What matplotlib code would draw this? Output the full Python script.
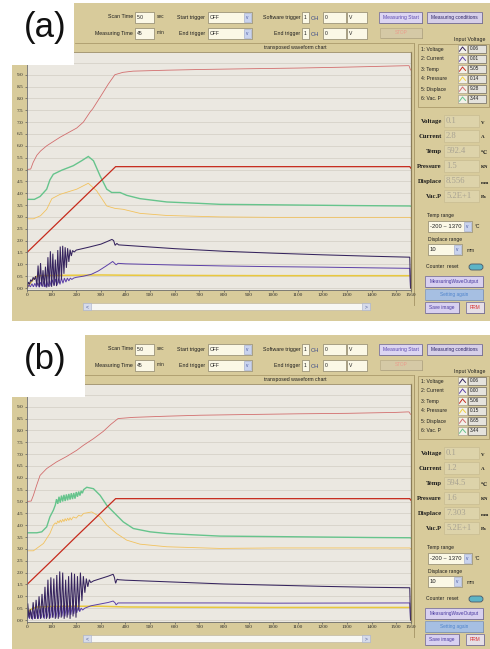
import matplotlib
matplotlib.use("Agg")
import matplotlib.pyplot as plt
from matplotlib.patches import Rectangle, FancyBboxPatch

plt.rcParams["font.family"] = ["Liberation Sans", "DejaVu Sans"]

# ---------------- data ----------------
x_ticks = [0, 100, 200, 300, 400, 500, 600, 700, 800, 900, 1000, 1100, 1200,
           1300, 1400, 1500, 1560]
y_ticks = [i * 0.5 for i in range(20)]

channel_names = ["1: Voltage", "2: Current", "3: Temp", "4: Pressure",
                 "5: Displace", "6: Vac. P"]
a_input_voltage = ["0.06", "0.01", "5.05", "0.14", "9.28", "3.44"]
b_input_voltage = ["0.06", "0.00", "5.06", "0.15", "8.65", "3.44"]

readout_labels = ["Voltage", "Current", "Temp", "Pressure", "Displace", "Vac.P"]
readout_units = ["V", "A", "\u2103", "KN", "mm", "Pa"]
a_readouts = ["0.1", "2.8", "592.4", "1.5", "8.556", "5.2E+1"]
b_readouts = ["0.1", "1.2", "594.5", "1.6", "7.303", "5.2E+1"]

# (a) traces, (time s, signal V)
a_displace = [(0, 5.0), (15, 5.02), (25, 5.3), (40, 5.6), (55, 5.78), (80, 6.0),
              (134, 6.36), (202, 6.75), (229, 7.0), (256, 7.42), (267, 7.56),
              (300, 8.1), (330, 8.6), (357, 9.0), (390, 9.1), (431, 9.15),
              (568, 9.19), (703, 9.22), (893, 9.25), (1100, 9.28), (1300, 9.32),
              (1543, 9.38), (1552, 9.38), (1558, 9.2)]
a_temp = [(0, 1.5), (360, 5.12), (1555, 5.12), (1560, 5.05)]
a_vacp = [(0, 3.74), (30, 3.74), (53, 3.86), (80, 4.17), (93, 4.56), (107, 4.8),
          (141, 4.97), (188, 5.16), (222, 5.37), (249, 5.55), (270, 5.37),
          (297, 4.73), (324, 4.17), (344, 4.03), (378, 4.03), (405, 3.91),
          (459, 3.77), (568, 3.63), (703, 3.57), (784, 3.53), (900, 3.52),
          (1100, 3.5), (1300, 3.48), (1555, 3.46), (1560, 3.45)]
a_pressure = [(0, 2.92), (26, 2.92), (55, 3.05), (80, 3.32), (101, 3.77),
              (134, 3.95), (202, 4.17), (249, 4.42), (283, 4.1), (324, 3.46),
              (357, 3.36), (391, 3.32), (459, 3.15), (568, 3.06), (784, 3.0),
              (1000, 2.98), (1555, 2.98), (1560, 2.95)]
a_level = [(0, 0.0), (10, 0.15), (20, 0.3), (30, 0.4), (40, 0.5), (50, 0.52),
           (100, 0.53), (200, 0.54), (300, 0.55), (400, 0.54), (600, 0.53),
           (1000, 0.52), (1555, 0.52)]
a_voltage = [(0, 0.0), (5, 0.25), (10, 0.15), (15, 0.35), (20, 0.28), (25, 0.45),
             (30, 0.35), (35, 0.5), (40, 0.1), (45, 0.95), (50, 0.05), (55, 1.05),
             (60, 0.1), (65, 0.75), (70, 0.05), (75, 0.9), (80, 0.02), (85, 1.3),
             (90, 0.05), (95, 1.55), (100, 0.05), (105, 1.45), (110, 0.1),
             (115, 1.2), (120, 0.08), (125, 1.6), (130, 0.2), (135, 1.75),
             (140, 0.35), (145, 1.78), (150, 0.6), (155, 1.72), (160, 0.85),
             (165, 1.68), (170, 1.1), (175, 1.62), (180, 1.35), (185, 1.58),
             (192, 1.52), (200, 1.6), (250, 1.72), (300, 1.85), (330, 1.98),
             (345, 2.05), (352, 2.0), (358, 1.8), (365, 1.88), (372, 1.82),
             (400, 1.8), (600, 1.66), (800, 1.55), (1000, 1.47), (1200, 1.4),
             (1400, 1.34), (1555, 1.3), (1558, 0.0)]
a_current = [(0, 0.0), (8, 0.12), (14, 0.05), (20, 0.18), (26, 0.05), (32, 0.2),
             (38, 0.04), (44, 0.22), (50, 0.03), (56, 0.25), (62, 0.05), (68, 0.28),
             (74, 0.04), (80, 0.3), (86, 0.06), (92, 0.32), (98, 0.08), (104, 0.35),
             (110, 0.1), (116, 0.38), (122, 0.12), (128, 0.4), (134, 0.15),
             (140, 0.42), (146, 0.2), (152, 0.42), (158, 0.25), (164, 0.42),
             (170, 0.3), (176, 0.42), (182, 0.36), (190, 0.42), (200, 0.45),
             (230, 0.5), (262, 0.58), (290, 0.72), (320, 0.92), (340, 1.06),
             (348, 1.12), (355, 1.05), (362, 0.98), (370, 1.04), (400, 1.02),
             (600, 0.97), (800, 0.93), (1000, 0.9), (1200, 0.88), (1400, 0.85),
             (1555, 0.83), (1558, 0.0)]

# (b) traces
b_displace = [(0, 5.0), (17, 5.02), (26, 5.26), (39, 5.68), (53, 6.1), (80, 6.39),
              (120, 6.67), (161, 6.9), (202, 7.16), (229, 7.37), (270, 7.65),
              (310, 7.96), (340, 8.25), (370, 8.5), (432, 8.55), (568, 8.6),
              (703, 8.64), (893, 8.67), (1100, 8.7), (1300, 8.72), (1500, 8.76),
              (1545, 8.78), (1552, 8.78), (1558, 8.68)]
b_temp = [(0, 1.5), (100, 2.5), (200, 3.52), (300, 4.52), (360, 5.12),
          (1555, 5.12), (1560, 5.05)]
b_vacp = [(0, 3.68), (40, 3.68), (60, 3.72), (80, 3.93), (93, 4.35), (107, 4.63),
          (115, 4.85), (120, 5.1), (125, 4.9), (130, 5.2), (135, 4.95), (140, 5.25),
          (145, 5.0), (150, 5.28), (155, 5.02), (160, 5.3), (165, 5.05),
          (170, 5.32), (175, 5.08), (180, 5.35), (185, 5.1), (190, 5.36),
          (195, 5.12), (200, 5.4), (205, 5.2), (210, 5.42), (215, 5.25),
          (220, 5.45), (225, 5.35), (230, 5.5), (243, 5.6), (270, 5.54),
          (297, 5.26), (324, 4.84), (364, 4.42), (391, 4.14), (432, 3.86),
          (500, 3.72), (568, 3.65), (703, 3.58), (784, 3.54), (1000, 3.52),
          (1200, 3.5), (1400, 3.48), (1555, 3.47), (1560, 3.46)]
b_pressure = [(0, 2.92), (26, 2.92), (67, 3.23), (93, 3.65), (107, 4.0),
              (115, 4.1), (120, 4.05), (125, 4.18), (130, 4.1), (135, 4.22),
              (140, 4.12), (145, 4.25), (150, 4.15), (155, 4.28), (160, 4.18),
              (165, 4.3), (170, 4.2), (175, 4.32), (180, 4.22), (188, 4.35),
              (200, 4.3), (210, 4.42), (220, 4.38), (230, 4.5), (243, 4.52),
              (263, 4.56), (297, 4.35), (324, 4.0), (364, 3.65), (405, 3.37),
              (459, 3.2), (568, 3.09), (784, 3.02), (1000, 3.04), (1555, 3.04),
              (1560, 3.0)]
b_level = [(0, 0.25), (10, 0.4), (25, 0.5), (40, 0.55), (100, 0.57), (200, 0.58),
           (300, 0.58), (400, 0.55), (600, 0.54), (1000, 0.53), (1555, 0.53)]
b_voltage = [(0, 0.05), (3, 0.7), (8, 0.1), (13, 0.45), (19, 0.05), (25, 0.75),
             (31, 0.05), (37, 0.85), (43, 0.05), (49, 1.0), (55, 0.05), (61, 1.1),
             (67, 0.1), (73, 1.4), (79, 0.05), (85, 1.7), (91, 0.05), (97, 1.8),
             (103, 0.1), (109, 1.75), (115, 0.05), (121, 1.9), (127, 0.05),
             (133, 2.05), (139, 0.1), (145, 2.0), (151, 0.05), (157, 1.7),
             (163, 0.1), (169, 1.85), (175, 0.05), (181, 2.0), (187, 0.15),
             (193, 1.95), (199, 0.1), (205, 1.85), (211, 0.4), (217, 2.0),
             (223, 0.8), (229, 1.85), (235, 1.15), (241, 1.75), (247, 1.4),
             (253, 1.7), (259, 1.58), (270, 1.65), (300, 1.75), (330, 1.85),
             (350, 1.93), (355, 1.8), (360, 1.55), (366, 1.72), (372, 1.7),
             (400, 1.68), (600, 1.6), (800, 1.52), (1000, 1.47), (1200, 1.42),
             (1400, 1.38), (1555, 1.36), (1558, 0.0)]
b_current = [(0, 0.05), (5, 0.3), (10, 0.05), (16, 0.35), (22, 0.02), (28, 0.4),
             (34, 0.05), (40, 0.45), (46, 0.05), (52, 0.45), (58, 0.08), (64, 0.5),
             (70, 0.05), (76, 0.5), (82, 0.1), (88, 0.55), (94, 0.08), (100, 0.55),
             (106, 0.1), (112, 0.6), (118, 0.1), (124, 0.58), (130, 0.12),
             (136, 0.6), (142, 0.15), (148, 0.62), (154, 0.15), (160, 0.6),
             (166, 0.2), (172, 0.62), (178, 0.22), (184, 0.6), (190, 0.25),
             (196, 0.62), (202, 0.3), (208, 0.55), (214, 0.35), (220, 0.5),
             (226, 0.42), (235, 0.5), (260, 0.6), (300, 0.68), (330, 0.74),
             (350, 0.8), (358, 0.72), (362, 0.64), (370, 0.72), (400, 0.72),
             (800, 0.72), (1000, 0.71), (1555, 0.72), (1558, 0.0)]

# ---------------- styling ----------------
W, H = 490, 649
TAN = "#d8cb9b"
TAN_DARK = "#ab9b6c"
PLOT_BG = "#ebe8e1"
GRID = "#d6d2c9"
PX_PER_UNIT = 23.7

C_VOLT = "#36245e"
C_CURR = "#5c40a8"
C_TEMP = "#c62a1c"
C_PRESS = "#f2c25e"
C_DISP = "#d26e6e"
C_VAC = "#66c48c"
C_LEVEL = "#e9c83e"
icon_colors = [C_VOLT, C_CURR, C_TEMP, "#f0d040", C_DISP, C_VAC]

UI = ["Liberation Sans", "DejaVu Sans"]
SERIF = ["Liberation Serif", "DejaVu Serif"]

fig = plt.figure(figsize=(W / 100, H / 100), dpi=100)
fig.patch.set_facecolor("white")

bg = fig.add_axes([0, 0, 1, 1])
bg.set_xlim(0, W)
bg.set_ylim(H, 0)
bg.axis("off")
bg.set_zorder(0)

fg = fig.add_axes([0, 0, 1, 1])
fg.set_xlim(0, W)
fg.set_ylim(H, 0)
fg.axis("off")
fg.patch.set_alpha(0)
fg.set_zorder(5)


def rect(ax, x0, y0, x1, y1, fc, ec="none", lw=0.5, z=1):
    ax.add_patch(Rectangle((x0, y0), x1 - x0, y1 - y0, facecolor=fc,
                           edgecolor=ec, linewidth=lw, zorder=z))


def txt(ax, x, y, s, size=3.8, color="#1e1e1e", ha="left", weight="normal",
        family=None, z=3):
    ax.text(x, y, s, fontsize=size, color=color, ha=ha, va="center",
            fontweight=weight, family=family or UI, zorder=z)


def button(ax, x0, y0, x1, y1, label, fc, tc, ec="#6c6494", size=3.6):
    rect(ax, x0 + 0.8, y0 + 0.8, x1 + 0.8, y1 + 0.8, "#8c8060", z=2)
    rect(ax, x0, y0, x1, y1, fc, ec, 0.5, z=2)
    txt(ax, (x0 + x1) / 2, (y0 + y1) / 2, label, size, tc, ha="center")


def entry(ax, x0, y0, x1, y1, s, size=3.6, fc="#fbf8e6"):
    rect(ax, x0, y0, x1, y1, fc, "#8e866c", 0.5, z=2)
    txt(ax, x0 + 1.5, (y0 + y1) / 2, s, size)


def combo(ax, x0, y0, x1, y1, s, size=3.6):
    entry(ax, x0, y0, x1, y1, s, size)
    rect(ax, x1 - 8, y0 + 1, x1 - 1, y1 - 1, "#c9d3ee", "#9aa6c8", 0.4, z=3)
    txt(ax, x1 - 4.5, (y0 + y1) / 2, "v", 3.4, "#4a5aa0", ha="center", z=4)


def draw_chart(T, voltage, current, temp, pressure, displace, vacp, level):
    ax = fig.add_axes([27 / W, 1 - (T + 287) / H, 384 / W, 238 / H])
    ax.set_zorder(2)
    ax.set_facecolor(PLOT_BG)
    ax.set_xlim(0, 1560)
    ax.set_ylim(-2 / PX_PER_UNIT, 236 / PX_PER_UNIT)
    for yv in y_ticks:
        ax.axhline(yv, color=GRID, lw=0.6, zorder=0)

    def draw(series, color, lw):
        xs, ys = zip(*series)
        ax.plot(xs, ys, color=color, lw=lw, solid_joinstyle="miter")

    draw(level, C_LEVEL, 1.1)
    draw(current, C_CURR, 0.7)
    draw(voltage, C_VOLT, 0.75)
    draw(pressure, C_PRESS, 0.6)
    draw(vacp, C_VAC, 1.0)
    draw(temp, C_TEMP, 0.9)
    draw(displace, C_DISP, 0.6)

    ax.set_xticks(x_ticks)
    ax.set_xticklabels([str(v) for v in x_ticks], family=SERIF)
    ax.set_yticks(y_ticks)
    ax.set_yticklabels([f"{v:.1f}" for v in y_ticks], family=SERIF)
    ax.tick_params(labelsize=3.8, length=1.6, width=0.5, pad=0.8,
                   colors="#5a5a5a", labelcolor="#2a2a2a")
    for side in ("left", "bottom"):
        ax.spines[side].set_color("#6e6e6e")
        ax.spines[side].set_linewidth(0.6)
    ax.spines["top"].set_color("#9c8c64")
    ax.spines["top"].set_linewidth(0.6)
    ax.spines["right"].set_color("#8a7c58")
    ax.spines["right"].set_linewidth(0.9)
    return ax


def draw_panel(T, bottom, tag, box_right, legend_vals, readouts):
    # window background
    rect(bg, 12, T, W, bottom, TAN)
    bg.plot([75, 413], [T + 40, T + 40], color=TAN_DARK, lw=0.6)
    bg.plot([413.5, 413.5], [T + 40, T + 302], color=TAN_DARK, lw=0.7)

    # figure tag
    rect(fg, 0, T - 3 if T < 10 else T, box_right, T + 62, "white", z=1)
    txt(fg, 45, T + 24, tag, 25, "#111111", ha="center")

    # header controls
    txt(fg, 133, T + 14, "Scan Time", ha="right")
    entry(fg, 135, T + 9, 154, T + 20, "5.0")
    txt(fg, 157, T + 14, "sec", 3.4)
    txt(fg, 133, T + 30, "Measuring Time", ha="right")
    entry(fg, 135, T + 25, 154, T + 36, "45")
    txt(fg, 157, T + 30, "min", 3.4)

    txt(fg, 205, T + 14, "Start trigger", ha="right")
    combo(fg, 208, T + 9, 252, T + 20, "OFF")
    txt(fg, 205, T + 30, "End trigger", ha="right")
    combo(fg, 208, T + 25, 252, T + 36, "OFF")

    for row, lab in ((14, "Software trigger"), (30, "End trigger")):
        txt(fg, 300, T + row, lab, ha="right")
        entry(fg, 302, T + row - 5, 309, T + row + 6, "1")
        txt(fg, 311, T + row + 1, "CH", 4.2, "#3a4a8a")
        entry(fg, 323, T + row - 5, 346, T + row + 6, "0")
        entry(fg, 347, T + row - 5, 367, T + row + 6, "V")

    button(fg, 379, T + 9, 422, T + 20, "Measuring Start", "#dcd5f2", "#5a48b0")
    button(fg, 427, T + 9, 482, T + 20, "Measuring conditions", "#d6cfe8",
           "#2c2468", size=3.5)
    button(fg, 380, T + 25, 422, T + 35, "STOP", "#d5c9a6", "#eb9c8c",
           ec="#b8ac88", size=3.4)

    txt(fg, 295, T + 44.5, "transposed waveform chart", 3.7, ha="center")

    # channel legend
    txt(fg, 470, T + 37, "Input Voltage", 3.8, ha="center")
    rect(fg, 418, T + 41, 489, T + 104, "none", TAN_DARK, 0.6, z=1)
    for i, (name, val) in enumerate(zip(channel_names, legend_vals)):
        yc = T + 46 + 10 * i
        txt(fg, 421, yc, name, 3.6)
        rect(fg, 458, yc - 4, 467, yc + 4, "#f3f1ea", "#9c9480", 0.4, z=2)
        fg.plot([459.5, 462.5, 465.5], [yc + 2.2, yc - 2.0, yc + 1.4],
                color=icon_colors[i], lw=0.7, zorder=3)
        rect(fg, 468, yc - 4, 486, yc + 4, "#e4e2dc", "#6e6a60", 0.5, z=2)
        txt(fg, 469.5, yc, val, 3.4)

    # numeric readouts
    for i, (lab, val, unit) in enumerate(zip(readout_labels, readouts,
                                             readout_units)):
        yc = T + 118 + 15 * i
        txt(fg, 442, yc, lab, 4.8, "#1c1c1c", ha="right", weight="bold",
            family=SERIF)
        rect(fg, 444, yc - 6, 479, yc + 6, "#ddd3aa", "#c8bc92", 0.5, z=2)
        txt(fg, 446, yc, val, 6.2, "#a8a292", family=SERIF)
        txt(fg, 481, yc + 1.5, unit, 3.6, "#1c1c1c", weight="bold",
            family=SERIF + ["DejaVu Sans"])

    # range selectors
    txt(fg, 427, T + 213, "Temp range", 3.6)
    combo(fg, 428, T + 218, 472, T + 229, "-200 ~ 1370", 4.2)
    txt(fg, 475, T + 224, "\u00b0C", 3.6)
    txt(fg, 428, T + 237, "Displace range", 3.6)
    combo(fg, 428, T + 241, 462, T + 252, "10", 4.2)
    txt(fg, 467, T + 247, "mm", 3.4)

    txt(fg, 426, T + 264, "Counter  reset", 3.6)
    fg.add_patch(FancyBboxPatch((469, T + 261), 14, 6,
                                boxstyle="round,pad=0,rounding_size=3",
                                facecolor="#5cb4c6", edgecolor="#4a5868",
                                linewidth=0.6, zorder=3))

    button(fg, 425, T + 273, 483, T + 284, "MeasuringWaveOutput", "#d8d0f0",
           "#4838a0", size=3.4)
    button(fg, 425, T + 286, 483, T + 297, "Setting again", "#a6bfe2",
           "#4f84cc", ec="#7f95bb", size=3.4)
    button(fg, 425, T + 299, 459, T + 310, "Save image", "#d8d0f0", "#4838a0",
           size=3.4)
    button(fg, 466, T + 299, 484, T + 310, "RRM", "#e6dfe6", "#d83030",
           size=3.4)

    # horizontal scroll bar
    rect(fg, 83, T + 300, 370, T + 307, "#f7f7f3", "#c2baa2", 0.5, z=2)
    rect(fg, 83, T + 300, 91, T + 307, "#d6dbea", "#a8b0c8", 0.4, z=3)
    rect(fg, 362, T + 300, 370, T + 307, "#d6dbea", "#a8b0c8", 0.4, z=3)
    txt(fg, 87, T + 303.5, "<", 3.6, "#4a5a98", ha="center", z=4)
    txt(fg, 366, T + 303.5, ">", 3.6, "#4a5a98", ha="center", z=4)


draw_panel(3, 321, "(a)", 74, a_input_voltage, a_readouts)
draw_chart(3, a_voltage, a_current, a_temp, a_pressure, a_displace, a_vacp, a_level)

draw_panel(335, H, "(b)", 85, b_input_voltage, b_readouts)
draw_chart(335, b_voltage, b_current, b_temp, b_pressure, b_displace, b_vacp, b_level)

fig.savefig("out.png", dpi=100, facecolor="white")
